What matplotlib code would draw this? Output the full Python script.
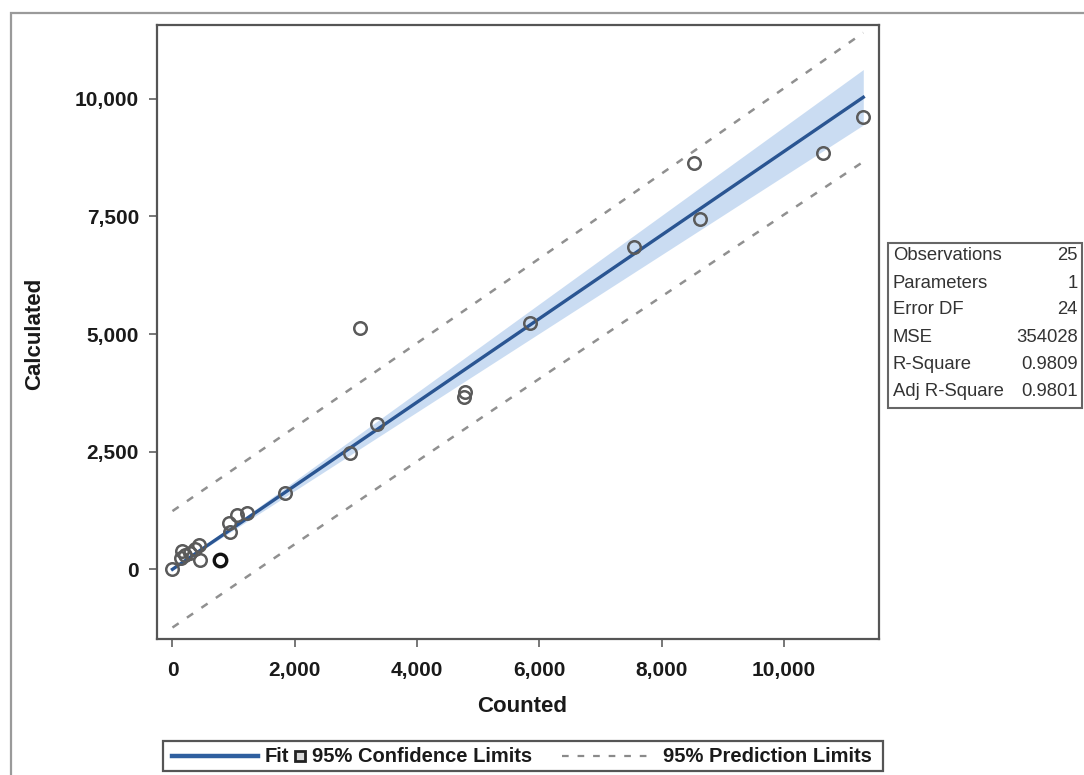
import numpy as np
import matplotlib
matplotlib.use("Agg")
import matplotlib.pyplot as plt
from matplotlib.lines import Line2D
from matplotlib.patches import Rectangle
from matplotlib.ticker import FuncFormatter, FixedLocator

# ---- data ----
counted = [0, 150, 134, 286, 438, 450, 777, 924, 940, 1060, 1223, 1840, 2903,
           3339, 3066, 4783, 4772, 5846, 7552, 8528, 8626, 10643, 11297, 204, 368]
calculated = [0, 395, 240, 346, 516, 198, 198, 984, 799, 1154, 1203, 1615, 2465,
              3081, 5134, 3774, 3668, 5234, 6855, 8628, 7444, 8836, 9618, 304, 431]
highlight_index = 6  # the darker point

stat_labels = ["Observations", "Parameters", "Error DF", "MSE", "R-Square", "Adj R-Square"]
stat_values = ["25", "1", "24", "354028", "0.9809", "0.9801"]

x_ticks = [0, 2000, 4000, 6000, 8000, 10000]
y_ticks = [0, 2500, 5000, 7500, 10000]
t_crit = 2.0639  # t(0.975, 24)

# ---- regression through origin ----
x = np.array(counted, float)
y = np.array(calculated, float)
n = len(x)
sxx = np.sum(x * x)
slope = np.sum(x * y) / sxx
mse = np.sum((y - slope * x) ** 2) / (n - 1)
xg = np.linspace(0, x.max(), 200)
fit = slope * xg
ci = t_crit * np.sqrt(mse * xg ** 2 / sxx)
pi = t_crit * np.sqrt(mse * (1 + xg ** 2 / sxx))

W, H = 1084, 775
fig = plt.figure(figsize=(W / 100, H / 100), dpi=100)
plt.rcParams['font.family'] = ['Liberation Sans', 'DejaVu Sans']


def fx(px):
    return px / W


def fy(py):
    return 1 - py / H


# outer frame
fig.add_artist(Rectangle((fx(11), fy(800)), fx(1100) - fx(11), fy(13) - fy(800),
                         transform=fig.transFigure, fill=False, edgecolor='#9a9a9a', lw=1.6))

ax = fig.add_axes([fx(157), fy(639), fx(879) - fx(157), fy(25) - fy(639)])
ax.set_xlim(-253, 11554)
ax.set_ylim(-1481, 11566)

ax.fill_between(xg, fit - ci, fit + ci, color='#c5d9f1', alpha=0.9, lw=0, zorder=1)
ax.plot(xg, fit + pi, color='#909090', lw=1.8, ls=(0, (3, 4)), zorder=2)
ax.plot(xg, fit - pi, color='#909090', lw=1.8, ls=(0, (3, 4)), zorder=2)
ax.plot(xg, fit, color='#2a5592', lw=2.4, zorder=3)

mask = np.ones(n, bool)
mask[highlight_index] = False
ax.plot(x[mask], y[mask], ls='none', marker='o', ms=9, mfc='none', mec='#5a5a5a', mew=1.8, zorder=4)
ax.plot(x[~mask], y[~mask], ls='none', marker='o', ms=9, mfc='none', mec='#111111', mew=2.4, zorder=4)

ax.xaxis.set_major_locator(FixedLocator(x_ticks))
ax.yaxis.set_major_locator(FixedLocator(y_ticks))
fmt = FuncFormatter(lambda v, p: f"{int(v):,}")
ax.xaxis.set_major_formatter(fmt)
ax.yaxis.set_major_formatter(fmt)
for s in ax.spines.values():
    s.set_color('#555555')
    s.set_linewidth(1.6)
ax.tick_params(axis='both', direction='out', length=6, width=1.4, color='#777777',
               labelsize=15, labelcolor='#1a1a1a')
for lab in ax.get_xticklabels() + ax.get_yticklabels():
    lab.set_fontweight('bold')
ax.tick_params(axis='x', pad=10)
ax.tick_params(axis='y', pad=7)

fig.text(fx(522), fy(706), "Counted", ha='center', va='center', fontsize=16,
         fontweight='bold', color='#1a1a1a')
fig.text(fx(35), fy(334), "Calculated", ha='center', va='center', fontsize=16,
         fontweight='bold', color='#1a1a1a', rotation=90)

# stats table
fig.add_artist(Rectangle((fx(888), fy(408)), fx(1082) - fx(888), fy(243) - fy(408),
                         transform=fig.transFigure, fill=False, edgecolor='#666666', lw=1.5))
row_y = [256, 283, 310, 337, 364, 391]
for lab, val, ry in zip(stat_labels, stat_values, row_y):
    fig.text(fx(893), fy(ry), lab, ha='left', va='center', fontsize=13.3, color='#333333')
    fig.text(fx(1078), fy(ry), val, ha='right', va='center', fontsize=13.3, color='#333333')

# legend
fig.add_artist(Rectangle((fx(163), fy(771)), fx(883) - fx(163), fy(741) - fy(771),
                         transform=fig.transFigure, fill=False, edgecolor='#555555', lw=1.6))
ly = 756
fig.add_artist(Line2D([fx(172), fx(258)], [fy(ly), fy(ly)], transform=fig.transFigure,
                      color='#2f5f9f', lw=3.2))
fig.text(fx(265), fy(ly), "Fit", ha='left', va='center', fontsize=14.5, fontweight='bold', color='#1a1a1a')
fig.add_artist(Rectangle((fx(295), fy(761)), fx(305) - fx(295), fy(751) - fy(761),
                         transform=fig.transFigure, facecolor='#d9d9d9', edgecolor='#222222', lw=2))
fig.text(fx(312), fy(ly), "95% Confidence Limits", ha='left', va='center', fontsize=14.5,
         fontweight='bold', color='#1a1a1a')
fig.add_artist(Line2D([fx(562), fx(650)], [fy(ly), fy(ly)], transform=fig.transFigure,
                      color='#8a8a8a', lw=1.6, ls=(0, (3, 4))))
fig.text(fx(663), fy(ly), "95% Prediction Limits", ha='left', va='center', fontsize=14.5,
         fontweight='bold', color='#1a1a1a')

fig.savefig("out.png", dpi=100, facecolor='white')
